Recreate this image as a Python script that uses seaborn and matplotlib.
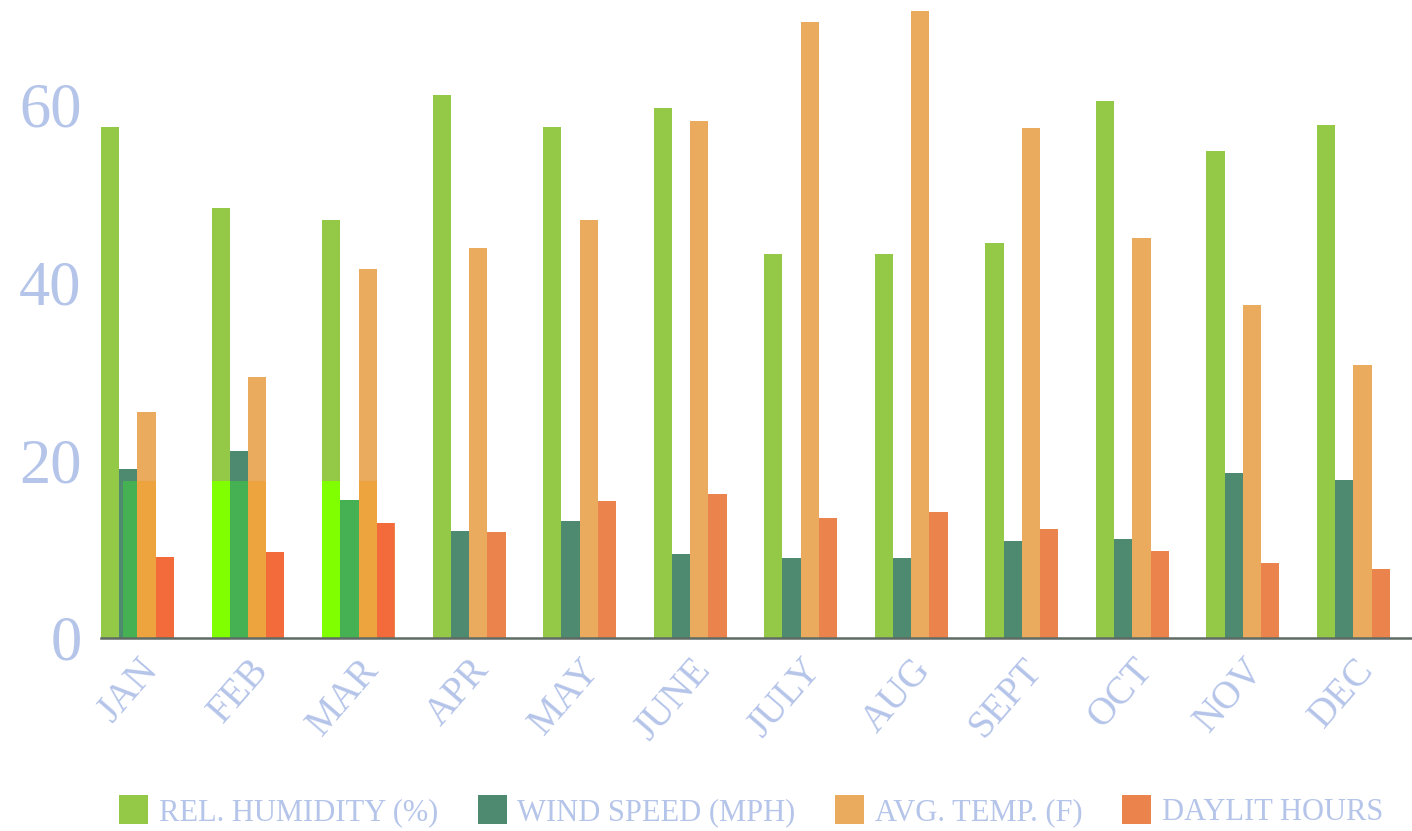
import numpy as np
import pandas as pd
import matplotlib
matplotlib.use("Agg")
import matplotlib.pyplot as plt
from matplotlib.patches import Rectangle, Patch
import seaborn as sns

months = ["JAN", "FEB", "MAR", "APR", "MAY", "JUNE",
          "JULY", "AUG", "SEPT", "OCT", "NOV", "DEC"]
series = ["REL. HUMIDITY (%)", "WIND SPEED (MPH)", "AVG. TEMP. (F)", "DAYLIT HOURS"]

humidity = [57.5, 48.4, 47.0, 61.1, 57.5, 59.6, 43.2, 43.2, 44.5, 60.4, 54.8, 57.7]
wind_speed = [19.0, 21.0, 15.5, 12.0, 13.2, 9.4, 9.0, 9.0, 10.9, 11.1, 18.6, 17.8]
avg_temp = [25.4, 29.4, 41.5, 43.9, 47.0, 58.2, 69.3, 70.6, 57.4, 45.0, 37.5, 30.7]
daylit_hours = [9.1, 9.7, 12.9, 11.9, 15.4, 16.2, 13.5, 14.2, 12.3, 9.8, 8.4, 7.8]

# winter highlight band (months JAN..MAR, values up to this level)
winter_top = 17.7

base_colors = ["#94c948", "#4d8a6f", "#ebab5e", "#eb844c"]
winter_colors = ["#80ff00", "#45b153", "#eda43f", "#f36b3a"]
label_color = "#b5c4e9"
font = "Liberation Serif"

df = pd.DataFrame({
    "month": np.repeat(months, 4),
    "series": series * len(months),
    "value": np.ravel(np.column_stack([humidity, wind_speed, avg_temp, daylit_hours])),
})

sns.set_style("white")
plt.rcParams["font.family"] = [font, "DejaVu Sans"]

fig = plt.figure(figsize=(14.12, 8.31), dpi=100)
ax = fig.add_axes([101 / 1412, 1 - 638 / 831, 1 - 101 / 1412, 638 / 831])

bar_width = 0.66
sns.barplot(data=df, x="month", y="value", hue="series", order=months,
            hue_order=series, palette=base_colors, width=bar_width,
            gap=0, saturation=1, legend=False, linewidth=0, ax=ax)

# brighter overlay for the winter block, clipped to the highlight band
n_before = len(ax.patches)
sns.barplot(data=df, x="month", y="value", hue="series", order=months,
            hue_order=series, palette=winter_colors, width=bar_width,
            gap=0, saturation=1, legend=False, linewidth=0, ax=ax)
band = Rectangle((-0.13, 0), 2.45, winter_top, transform=ax.transData,
                 facecolor="none", edgecolor="none")
ax.add_patch(band)
for p in ax.patches[n_before:]:
    if p is band:
        continue
    p.set_clip_path(band)

ax.set_xlim(-0.33, 11.53)
ax.set_ylim(0, 71.8)
ax.set_yticks([0, 20, 40, 60])
ax.set_xlabel("")
ax.set_ylabel("")

for s in ["top", "right", "left"]:
    ax.spines[s].set_visible(False)
ax.spines["bottom"].set_color("#5f6b64")
ax.spines["bottom"].set_linewidth(1.8)

ax.tick_params(axis="y", length=0, pad=14, labelsize=45, labelcolor=label_color)
ax.tick_params(axis="x", length=0, pad=10, labelsize=28, labelcolor=label_color)
for t in ax.get_xticklabels():
    t.set_rotation(49)
    t.set_ha("right")
    t.set_rotation_mode("anchor")
    t.set_fontfamily(font)
for t in ax.get_yticklabels():
    t.set_fontfamily(font)

handles = [Patch(facecolor=c, edgecolor="none") for c in base_colors]
fig.legend(handles, series, loc="lower center", bbox_to_anchor=(0.532, -0.028),
           ncol=4, frameon=False, labelcolor=label_color,
           handlelength=0.95, handleheight=1.1, handletextpad=0.35,
           columnspacing=1.3, prop={"family": font, "size": 22})

fig.savefig("out.png", dpi=100)
